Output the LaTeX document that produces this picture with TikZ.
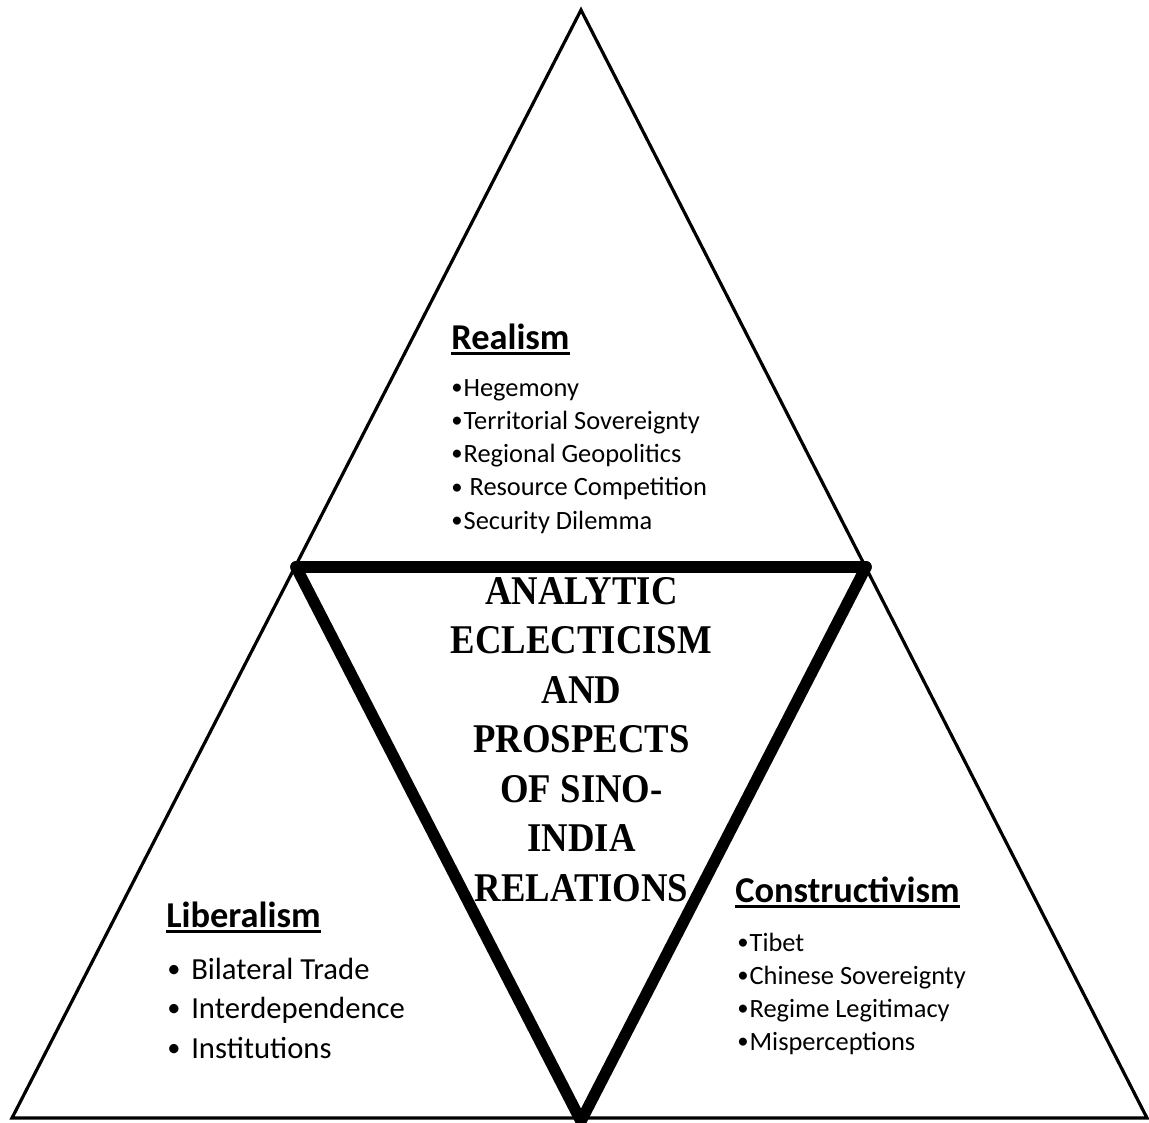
\documentclass[tikz,border=0pt]{standalone}
\usepackage{fontspec}
\usepackage{graphicx}
\setmainfont{Carlito}
\newfontfamily\titlefont[FakeStretch=0.9]{Liberation Serif}
\usepackage{tikz}
\newsavebox{\hdbox}
\newcommand{\bul}{\raisebox{0.05em}{\scalebox{0.86}{•}}\kern0.8pt}
\newcommand{\hdr}[1]{\sbox{\hdbox}{#1}\rlap{\rule[-4.3pt]{\wd\hdbox}{1.9pt}}\usebox{\hdbox}}

\begin{document}
\begin{tikzpicture}[x=0.75pt,y=0.75pt,yscale=-1,xscale=1,
	thinedge/.style={line width=2.4},
	thickedge/.style={line width=8.6,line cap=round},
	head/.style={anchor=base west,inner sep=0.75pt,font=\bfseries\fontsize{27.3}{32}\selectfont},
	item/.style={anchor=base west,inner sep=0.75pt,font=\fontsize{19.8}{24}\selectfont},
	libitem/.style={anchor=base west,inner sep=0.75pt,font=\fontsize{23}{28}\selectfont},
	title/.style={anchor=base,inner sep=0.75pt,font=\titlefont\bfseries\fontsize{30.6}{37}\selectfont}]
	\useasboundingbox (0,0) rectangle (1149,1122);
	
	%Corners
	\coordinate (apex) at (581,10);
	\coordinate (baseL) at (12,1118);
	\coordinate (baseR) at (1147,1118);
	\coordinate (midL) at (296,567);
	\coordinate (midR) at (866,567);
	\coordinate (midB) at (581,1121);
	
	%Shape: Triangle (outer)
	\draw [thinedge] (apex) -- (baseR) -- (baseL) -- cycle ;
	%Straight Lines (inner, top bar)
	\draw [thickedge] (midL) -- (midR) ;
	%Straight Lines (inner, V)
	\draw [thickedge,line join=miter] (midL) -- (midB) -- (midR) ;
	
	% Text Node
	\draw (450,349) node (realism) [head] {\hdr{Realism}};
	% Text Node
	\draw (450,396) node (hegemony) [item] {\bul Hegemony};
	% Text Node
	\draw (450,429) node (territory) [item] {\bul Territorial Sovereignty};
	% Text Node
	\draw (450,462) node (geopol) [item] {\bul Regional Geopolitics};
	% Text Node
	\draw (450,495.5) node (resource) [item] {\bul\ Resource Competition};
	% Text Node
	\draw (450,529) node (dilemma) [item] {\bul Security Dilemma};
	
	% Text Node
	\draw (165,927) node (liberalism) [head] {\hdr{Liberalism}};
	% Text Node
	\draw (166,979) node (trade) [libitem] {\makebox[18pt][l]{\bul}Bilateral Trade};
	% Text Node
	\draw (166,1018) node (interdep) [libitem] {\makebox[18pt][l]{\bul}Interdependence};
	% Text Node
	\draw (166,1058) node (institut) [libitem] {\makebox[18pt][l]{\bul}Institutions};
	
	% Text Node
	\draw (734,902) node (construct) [head] {\hdr{Constructivism}};
	% Text Node
	\draw (736,951) node (tibet) [item] {\bul Tibet};
	% Text Node
	\draw (736,984) node (chinese) [item] {\bul Chinese Sovereignty};
	% Text Node
	\draw (736,1017) node (regime) [item] {\bul Regime Legitimacy};
	% Text Node
	\draw (736,1050) node (misperc) [item] {\bul Misperceptions};
	
	% Text Node
	\draw (581.5,604) node (tA) [title] {ANALYTIC};
	% Text Node
	\draw (581.5,653.5) node (tB) [title] {ECLECTICISM};
	% Text Node
	\draw (581.5,703) node (tC) [title] {AND};
	% Text Node
	\draw (581.5,752.5) node (tD) [title] {PROSPECTS};
	% Text Node
	\draw (581.5,802) node (tE) [title] {OF SINO-};
	% Text Node
	\draw (581.5,851.5) node (tF) [title] {INDIA};
	% Text Node
	\draw (581.5,901) node (tG) [title] {RELATIONS};
	
\end{tikzpicture}
\end{document}
